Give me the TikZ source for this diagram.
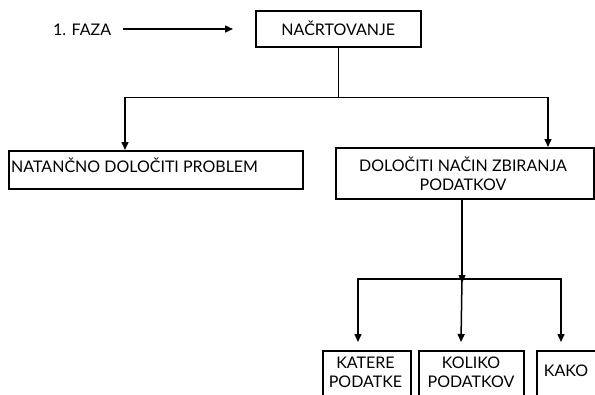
\documentclass[tikz,border=0pt]{standalone}
\usepackage{fontspec}
\setmainfont{Lato}
\usetikzlibrary{arrows.meta}
\begin{document}
\begin{tikzpicture}[x=1pt,y=-1pt,
  box/.style={draw, line width=1.5pt, rectangle, anchor=north west, inner sep=0pt},
  conn/.style={line width=1.5pt},
  arr/.style={conn, -{Triangle[length=8pt,width=7pt]}},
  lbl/.style={font=\fontsize{16}{19}\selectfont, inner sep=0pt, align=center}]
\useasboundingbox (0,0) rectangle (595,394);
% boxes
\node[box, minimum width=165pt, minimum height=36pt, lbl] (top) at (255,10) {NAČRTOVANJE};
\node[box, minimum width=294pt, minimum height=38pt] (lb) at (8,150) {};
\node[box, minimum width=258pt, minimum height=51pt] (rb) at (335,147) {};
\node[box, minimum width=88pt, minimum height=55pt] (b1) at (322,350) {};
\node[box, minimum width=105pt, minimum height=55pt] (b2) at (418,350) {};
\node[box, minimum width=64pt, minimum height=55pt] (b3) at (536,350) {};
% texts
\node[lbl, anchor=west] (faza) at (53,29.5) {1. FAZA};
\node[lbl, anchor=west] (tlb) at (11,165) {NATANČNO DOLOČITI PROBLEM};
\node[lbl] (trb) at (463,174) {DOLOČITI NAČIN ZBIRANJA\\PODATKOV};
\node[lbl] (tb1) at (365.5,372) {KATERE\\PODATKE};
\node[lbl] (tb2) at (471,372) {KOLIKO\\PODATKOV};
\node[lbl] (tb3) at (566,371) {KAKO};
% connectors
\coordinate (fazastart) at (123,29);
\coordinate (fazaend) at (233,29);
\draw[arr] (fazastart) -- (fazaend);
\coordinate (j1) at (top.south |- 0,97.5);
\draw[conn] (top.south) -- (j1);
\coordinate (la) at ([xshift=117pt]lb.north west);
\coordinate (ra) at ([xshift=213pt]rb.north west);
\draw[arr] (j1) -| (la);
\draw[arr] (j1) -| (ra);
\coordinate (j2s) at ([xshift=127pt]rb.south west);
\coordinate (j2a) at ([yshift=-4pt]j2s |- 0,279);
\draw[arr] (j2s) -- (j2a);
\coordinate (j2) at (j2s |- 0,279);
\coordinate (a1) at ([xshift=36pt,yshift=8pt]b1.north west);
\coordinate (a2) at ([xshift=43pt,yshift=8pt]b2.north west);
\coordinate (a3) at ([xshift=25pt,yshift=8pt]b3.north west);
\draw[arr] (j2) -| (a1);
\draw[arr] (j2) -- (a2);
\draw[arr] (j2) -| (a3);
\end{tikzpicture}
\end{document}
